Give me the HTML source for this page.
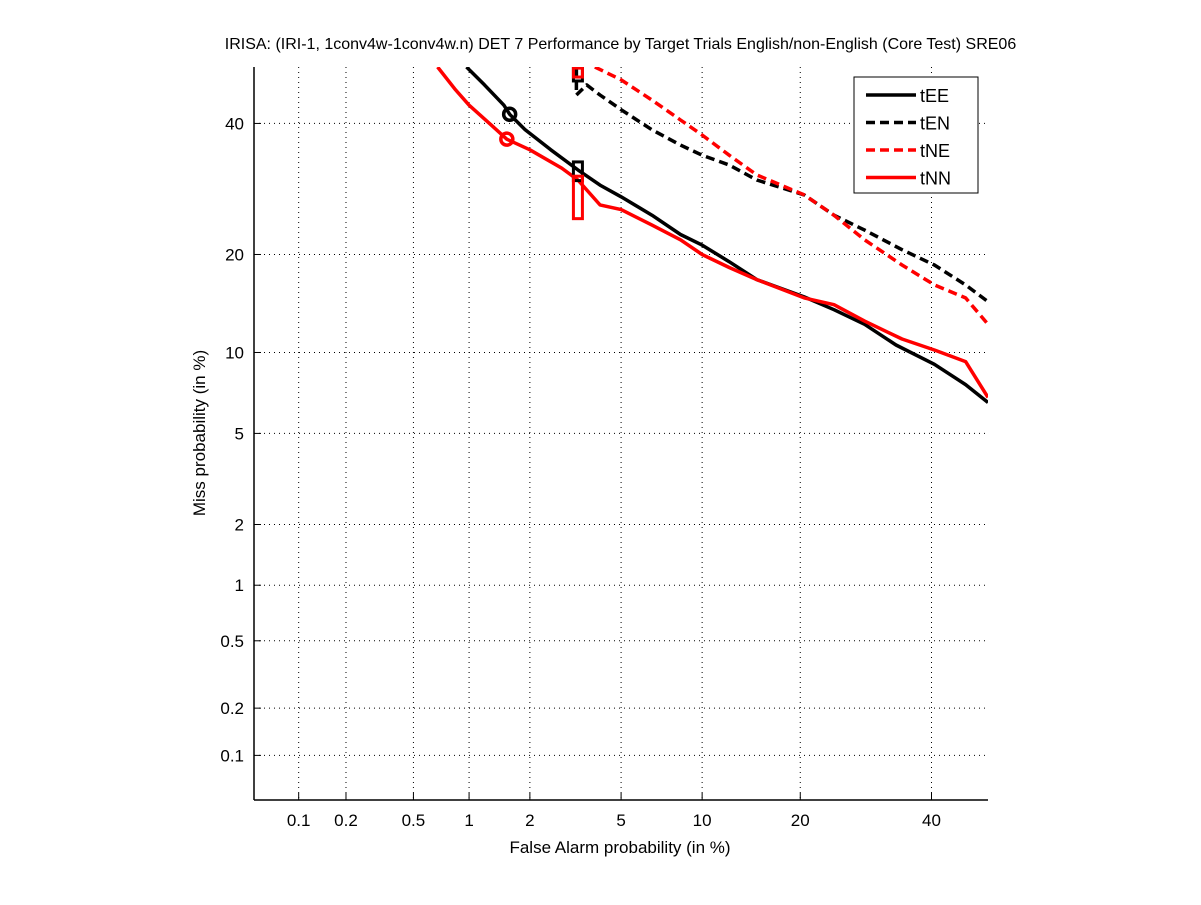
<!DOCTYPE html>
<html><head><meta charset="utf-8"><style>
html,body{margin:0;padding:0;background:#fff;}
svg text{font-family:"Liberation Sans",sans-serif;}
</style></head><body>
<svg id="chart" width="1201" height="900" xmlns="http://www.w3.org/2000/svg"></svg>
<script>
const tickValues=[0.1,0.2,0.5,1,2,5,10,20,40];
const tickLabels=["0.1","0.2","0.5","1","2","5","10","20","40"];
const eeFA=[0.97,1.2,1.5,1.6,1.9,2.5,3.3,4.1,5,6.6,8.4,10,12.3,15,20.5,24.5,29,34,40.5,46,50];
const eeMiss=[50,46.8,43.2,41.6,38.9,35.5,32.2,29.8,28,25.3,22.6,21.2,19.1,17,15.1,13.8,12.4,10.6,9.1,7.7,6.6];
const nnFA=[0.68,0.85,1,1.3,1.55,2,2.8,3.3,4.1,5,6.6,8.4,10,12.3,15,20.5,24.5,29,35,40.5,46,50];
const nnMiss=[50,45.9,43.2,39.7,37.3,35.5,32.5,30.6,26.8,26.1,23.9,21.9,20,18.4,17,15,14.3,12.7,11.1,10.2,9.3,6.9];
const enFA=[3.25,3.25,3.6,4.1,5,6.6,8.4,10,12.3,15,20.5,24.5,29,35,40.5,46,50];
const enMiss=[50,45,46.8,45,42.4,38.9,36.3,34.6,33,30.6,28.3,25.3,23.2,20.6,18.7,16.4,14.6];
const neFA=[3.9,5,6.6,8.4,10,12.3,15,20.5,24.5,29,35,40.5,46,50];
const neMiss=[50,47.7,44.1,40.6,38,34.6,31.4,28.3,25.3,21.9,18.7,16.4,15,12.4];

function probit(p){
 const a=[-39.69683028665376,220.9460984245205,-275.9285104469687,138.3577518672690,-30.66479806614716,2.506628277459239];
 const b=[-54.47609879822406,161.5858368580409,-155.6989798598866,66.80131188771972,-13.28068155288572];
 const c=[-0.007784894002430293,-0.3223964580411365,-2.400758277161838,-2.549732539343734,4.374664141464968,2.938163982698783];
 const d=[0.007784695709041462,0.3224671290700398,2.445134137142996,3.754408661907416];
 const pl=0.02425;let q,r;
 if(p<pl){q=Math.sqrt(-2*Math.log(p));return (((((c[0]*q+c[1])*q+c[2])*q+c[3])*q+c[4])*q+c[5])/((((d[0]*q+d[1])*q+d[2])*q+d[3])*q+1);}
 if(p<=1-pl){q=p-0.5;r=q*q;return (((((a[0]*r+a[1])*r+a[2])*r+a[3])*r+a[4])*r+a[5])*q/(((((b[0]*r+b[1])*r+b[2])*r+b[3])*r+b[4])*r+1);}
 q=Math.sqrt(-2*Math.log(1-p));return -(((((c[0]*q+c[1])*q+c[2])*q+c[3])*q+c[4])*q+c[5])/((((d[0]*q+d[1])*q+d[2])*q+d[3])*q+1);
}
const L=254,R=988,T=67,B=800;
const pmin=probit(0.0005),pmax=0;
function xs(v){return L+(probit(v/100)-pmin)/(pmax-pmin)*(R-L);}
function ys(v){return B-(probit(v/100)-pmin)/(pmax-pmin)*(B-T);}
const svg=document.getElementById('chart');const NS='http://www.w3.org/2000/svg';
function mk(t,at,par){const e=document.createElementNS(NS,t);for(const k in at)e.setAttribute(k,at[k]);(par||svg).appendChild(e);return e;}

const clip=mk('clipPath',{id:'pc'});mk('rect',{x:L,y:T,width:R-L,height:B-T},clip);
const grid=mk('g',{});


tickValues.forEach((v,i)=>{
 const x=xs(v),y=ys(v);
 mk('line',{x1:x,y1:T,x2:x,y2:B,stroke:'#000','stroke-width':1,'stroke-dasharray':'1,4'},grid);
 mk('line',{x1:L,y1:y,x2:R,y2:y,stroke:'#000','stroke-width':1,'stroke-dasharray':'1,4'},grid);
 const tx=mk('text',{x:x,y:826,'text-anchor':'middle','font-size':17},svg);tx.textContent=tickLabels[i];
 
 
 const ty=mk('text',{x:244,y:y+6,'text-anchor':'end','font-size':17},svg);ty.textContent=tickLabels[i];
 
 
 mk('line',{x1:x,y1:B,x2:x,y2:B-7,stroke:'#000'});
 mk('line',{x1:L,y1:y,x2:L+7,y2:y,stroke:'#000'});
});
const xaxis=mk('line',{x1:L,y1:B,x2:R,y2:B,stroke:'#000','stroke-width':1.5});


const yaxis=mk('line',{x1:L,y1:T,x2:L,y2:B,stroke:'#000','stroke-width':1.5});



const plot=mk('g',{'clip-path':'url(#pc)'});
function series(fa,miss,color,dash,name){
 const d=fa.map((f,i)=>(i?'L':'M')+xs(f).toFixed(1)+','+ys(miss[i]).toFixed(1)).join(' ');
 const p=mk('path',{d:d,fill:'none',stroke:color,'stroke-width':3.5,'stroke-dasharray':dash||'none','stroke-linejoin':'round'},plot);
 
 
}
series(enFA,enMiss,'#000','9,5','series-tEN');
series(neFA,neMiss,'#f00','9,5','series-tNE');
series(eeFA,eeMiss,'#000','','series-tEE');
series(nnFA,nnMiss,'#f00','','series-tNN');
const m1=mk('circle',{cx:xs(1.6),cy:ys(41.6),r:6,fill:'none',stroke:'#000','stroke-width':3.5},plot);


const m2=mk('circle',{cx:xs(1.55),cy:ys(37.3),r:6,fill:'none',stroke:'#f00','stroke-width':3.5},plot);


function box(fa,m1v,m2v,color,name){
 const x=xs(fa),ya=ys(m1v),yb=ys(m2v);
 const r=mk('rect',{x:x-4.5,y:ya,width:9,height:yb-ya,fill:'none',stroke:color,'stroke-width':3},plot);
 
 
}
box(3.3,33.5,30.5,'#000','tEE-act-dcf-marker');
box(3.3,31.2,24.8,'#f00','tNN-act-dcf-marker');
box(3.3,50,47.5,'#000','tEN-act-dcf-marker');
box(3.3,49.8,48.2,'#f00','tNE-act-dcf-marker');

const lg=mk('g',{});


mk('rect',{x:854,y:77,width:124,height:116,fill:'#fff',stroke:'#000','stroke-width':1},lg);
const legNames=['tEE','tEN','tNE','tNN'],legCol=['#000','#000','#f00','#f00'],legDash=['none','9,5','9,5','none'];
legNames.forEach((n,i)=>{
 const y=95+i*27.5;
 const g=mk('g',{},lg);
 
 
 mk('line',{x1:866,y1:y,x2:916,y2:y,stroke:legCol[i],'stroke-width':3.5,'stroke-dasharray':legDash[i]},g);
 const t=mk('text',{x:920,y:y+7,'font-size':18},g);t.textContent=n;
});
</script>
<div style="position:absolute;left:0;top:36px;width:1241px;text-align:center;font:16px 'Liberation Sans',sans-serif;">IRISA: (IRI-1, 1conv4w-1conv4w.n) DET 7 Performance by Target Trials English/non-English (Core Test) SRE06</div>
<div style="position:absolute;left:0;top:838px;width:1240px;text-align:center;font:17px 'Liberation Sans',sans-serif;">False Alarm probability (in %)</div>
<div style="position:absolute;left:200px;top:433px;transform:translate(-50%,-50%) rotate(-90deg);white-space:nowrap;font:17px 'Liberation Sans',sans-serif;">Miss probability (in %)</div>
</body></html>
